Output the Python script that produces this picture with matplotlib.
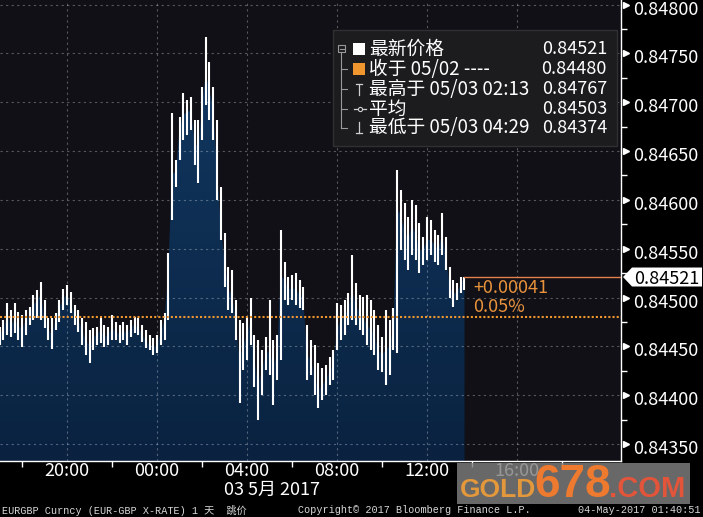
import matplotlib
matplotlib.use("Agg")
import matplotlib.pyplot as plt
import numpy as np
from matplotlib.patches import Rectangle, Polygon
from matplotlib.colors import LinearSegmentedColormap
from matplotlib.transforms import blended_transform_factory, ScaledTranslation

plt.rcParams['font.family'] = ['Noto Sans CJK SC', 'DejaVu Sans']

# EURGBP 10-minute bars, first bar 05/02 17:00 (hours counted from 05/03 00:00)
start_hour = -7.0
bar_hours = 10 / 60

highs = [0.84470, 0.84477, 0.84494, 0.84487, 0.84494, 0.84485, 0.84482, 0.84487, 0.84490, 0.84503,
         0.84508, 0.84516, 0.84497, 0.84479, 0.84479, 0.84484, 0.84497, 0.84509, 0.84513, 0.84506,
         0.84492, 0.84487, 0.84479, 0.84475, 0.84467, 0.84469, 0.84470, 0.84479, 0.84472, 0.84470,
         0.84482, 0.84475, 0.84472, 0.84475, 0.84472, 0.84477, 0.84480, 0.84479, 0.84472, 0.84467,
         0.84462, 0.84459, 0.84462, 0.84477, 0.84484, 0.84546, 0.84689, 0.84641, 0.84685, 0.84710,
         0.84702, 0.84705, 0.84682, 0.84682, 0.84716, 0.84767, 0.84741, 0.84716, 0.84682, 0.84613,
         0.84566, 0.84531, 0.84528, 0.84497, 0.84477, 0.84474, 0.84480, 0.84499, 0.84462, 0.84456,
         0.84446, 0.84460, 0.84497, 0.84456, 0.84462, 0.84569, 0.84536, 0.84521, 0.84523, 0.84525,
         0.84518, 0.84511, 0.84472, 0.84456, 0.84451, 0.84433, 0.84428, 0.84431, 0.84439, 0.84446,
         0.84494, 0.84492, 0.84497, 0.84505, 0.84544, 0.84515, 0.84503, 0.84501, 0.84503, 0.84497,
         0.84487, 0.84472, 0.84460, 0.84487, 0.84477, 0.84489, 0.84631, 0.84610, 0.84597, 0.84582,
         0.84600, 0.84595, 0.84576, 0.84562, 0.84582, 0.84579, 0.84569, 0.84564, 0.84587, 0.84562,
         0.84531, 0.84518, 0.84515, 0.84521, 0.84521]
lows = [0.84451, 0.84456, 0.84462, 0.84460, 0.84464, 0.84456, 0.84449, 0.84462, 0.84472, 0.84477,
        0.84479, 0.84477, 0.84469, 0.84456, 0.84447, 0.84467, 0.84475, 0.84487, 0.84492, 0.84484,
        0.84472, 0.84465, 0.84451, 0.84441, 0.84433, 0.84446, 0.84451, 0.84453, 0.84449, 0.84451,
        0.84456, 0.84456, 0.84453, 0.84456, 0.84451, 0.84460, 0.84464, 0.84462, 0.84454, 0.84448,
        0.84446, 0.84441, 0.84443, 0.84451, 0.84456, 0.84477, 0.84579, 0.84613, 0.84641, 0.84661,
        0.84666, 0.84672, 0.84636, 0.84617, 0.84661, 0.84697, 0.84682, 0.84661, 0.84600, 0.84559,
        0.84511, 0.84487, 0.84484, 0.84456, 0.84392, 0.84426, 0.84436, 0.84451, 0.84408, 0.84374,
        0.84400, 0.84426, 0.84421, 0.84390, 0.84415, 0.84436, 0.84497, 0.84492, 0.84497, 0.84492,
        0.84489, 0.84487, 0.84415, 0.84421, 0.84400, 0.84387, 0.84395, 0.84400, 0.84410, 0.84415,
        0.84446, 0.84456, 0.84462, 0.84472, 0.84477, 0.84472, 0.84467, 0.84462, 0.84451, 0.84446,
        0.84441, 0.84426, 0.84424, 0.84410, 0.84421, 0.84446, 0.84443, 0.84549, 0.84538, 0.84528,
        0.84544, 0.84538, 0.84525, 0.84533, 0.84538, 0.84544, 0.84536, 0.84533, 0.84544, 0.84528,
        0.84500, 0.84490, 0.84497, 0.84505, 0.84508]
closes = [0.84462, 0.84467, 0.84482, 0.84472, 0.84477, 0.84472, 0.84467, 0.84477, 0.84482, 0.84492,
          0.84497, 0.84503, 0.84479, 0.84467, 0.84462, 0.84479, 0.84489, 0.84499, 0.84503, 0.84494,
          0.84482, 0.84477, 0.84467, 0.84456, 0.84451, 0.84459, 0.84462, 0.84467, 0.84459, 0.84462,
          0.84469, 0.84465, 0.84462, 0.84467, 0.84462, 0.84469, 0.84472, 0.84469, 0.84462, 0.84456,
          0.84451, 0.84449, 0.84451, 0.84464, 0.84477, 0.84528, 0.84626, 0.84629, 0.84672, 0.84687,
          0.84690, 0.84692, 0.84661, 0.84651, 0.84697, 0.84728, 0.84713, 0.84692, 0.84631, 0.84574,
          0.84538, 0.84508, 0.84503, 0.84477, 0.84436, 0.84451, 0.84462, 0.84477, 0.84436, 0.84410,
          0.84426, 0.84441, 0.84446, 0.84431, 0.84441, 0.84523, 0.84518, 0.84508, 0.84510, 0.84508,
          0.84503, 0.84499, 0.84441, 0.84436, 0.84421, 0.84405, 0.84410, 0.84415, 0.84424, 0.84431,
          0.84467, 0.84477, 0.84482, 0.84487, 0.84508, 0.84492, 0.84485, 0.84479, 0.84472, 0.84467,
          0.84462, 0.84446, 0.84441, 0.84446, 0.84451, 0.84467, 0.84590, 0.84585, 0.84569, 0.84559,
          0.84574, 0.84564, 0.84549, 0.84549, 0.84559, 0.84559, 0.84554, 0.84549, 0.84564, 0.84544,
          0.84513, 0.84503, 0.84506, 0.84513, 0.84521]

prev_close = 0.84480
legend_rows = [("最新价格", "0.84521"),
               ("收于 05/02 ----", "0.84480"),
               ("最高于 05/03 02:13", "0.84767"),
               ("平均", "0.84503"),
               ("最低于 05/03 04:29", "0.84374")]

xtick_hours = [-4, 0, 4, 8, 12, 16]
xtick_labels = ["20:00", "00:00", "04:00", "08:00", "12:00", "16:00"]
xminor_hours = [-6, -2, 2, 6, 10, 14, 18]
yticks = [0.8435, 0.8440, 0.8445, 0.8450, 0.8455, 0.8460, 0.8465, 0.8470, 0.8475, 0.8480]
date_label = "03 5月 2017"
footer_left = "EURGBP Curncy (EUR-GBP X-RATE) 1 天  跳价"
footer_mid = "Copyright© 2017 Bloomberg Finance L.P."
footer_right = "04-May-2017 01:40:51"

W, H = 703, 517
fig = plt.figure(figsize=(W / 100, H / 100), dpi=100, facecolor='black')
ax = fig.add_axes([0, 56 / H, 621 / W, 461 / H])
ax.set_facecolor('#101016')

t = start_hour + bar_hours * np.arange(len(closes))
xlo, xhi = -157 / 22.5, (621 - 157) / 22.5
ylo, yhi = 0.843325, 0.848048

# gradient area under the closes
poly = ax.fill_between(t, closes, ylo, color='none', lw=0)
grad = np.linspace(0, 1, 256).reshape(-1, 1)
cmap = LinearSegmentedColormap.from_list('fill', ['#0a2240', '#123a64'])
im = ax.imshow(grad, extent=[t[0], t[-1], ylo, yhi], origin='lower', aspect='auto',
               cmap=cmap, zorder=1)
im.set_clip_path(poly.get_paths()[0], transform=ax.transData)

# grid
for yv in yticks:
    ax.axhline(yv, color=(1, 1, 1, 0.3), lw=0.8, ls=(0, (2, 3)), zorder=2)
for xv in xtick_hours:
    ax.axvline(xv, color=(1, 1, 1, 0.3), lw=0.8, ls=(0, (2, 3)), zorder=2)

# high-low bars
ax.vlines(t, lows, highs, color='white', lw=1.5, zorder=3)

# previous close and last price lines
last = closes[-1]
ax.axhline(prev_close, color='#f0962e', lw=1.5, ls=(0, (1, 1)), zorder=4)
ax.plot([t[-1], xhi], [last, last], color='#e4804c', lw=1, zorder=4)
chg = last - prev_close
ax.text(t[-1] + 0.38, last - 0.000113, f"+{chg:.5f}", color='#e8923c', fontsize=13,
        va='center', ha='left', zorder=5)
ax.text(t[-1] + 0.38, last - 0.000307, f"{chg / prev_close * 100:.2f}%", color='#e8923c',
        fontsize=13, va='center', ha='left', zorder=5)

ax.set_xlim(xlo, xhi)
ax.set_ylim(ylo, yhi)

for s in ['top', 'left']:
    ax.spines[s].set_visible(False)
for s in ['right', 'bottom']:
    ax.spines[s].set_color('white')
    ax.spines[s].set_linewidth(1)

ax.yaxis.tick_right()
ax.set_yticks(yticks)
ax.set_yticklabels([f"{v:.5f}" for v in yticks])
ax.set_yticks([v + 0.00025 for v in yticks[:-1]], minor=True)
ax.tick_params(axis='y', which='major', length=0, pad=8.5, labelsize=13, labelcolor='white')
ax.tick_params(axis='y', which='minor', length=4, width=1, color='white', direction='out')
shift = ScaledTranslation(0, -3 / 100, fig.dpi_scale_trans)
for lbl in ax.get_yticklabels():
    lbl.set_transform(lbl.get_transform() + shift)
ax.set_xticks(xtick_hours)
ax.set_xticklabels(xtick_labels)
ax.set_xticks(xminor_hours, minor=True)
ax.tick_params(axis='x', which='major', length=0, pad=1, labelsize=13, labelcolor='white')
ax.tick_params(axis='x', which='minor', length=4, width=1, color='white', direction='out')

yt = blended_transform_factory(ax.transAxes, ax.transData)
ax.plot(np.full(len(yticks), 1 + 5 / 621), yticks, ls='none', marker='>', ms=5,
        color='white', transform=yt, clip_on=False)

# last price flag
h = 0.0000973
flag = Polygon([(1 + 2 / 621, last), (1 + 11 / 621, last + h), (1 + 81 / 621, last + h),
                (1 + 81 / 621, last - h), (1 + 11 / 621, last - h)],
               closed=True, fc='white', ec='none', transform=yt, clip_on=False, zorder=6)
ax.add_patch(flag)
ax.text(1 + 13 / 621, last, f"{last:.5f}", transform=yt, color='black', fontsize=13,
        va='center_baseline', ha='left', zorder=7, clip_on=False)

# overlay in pixel coordinates for legend, footer, watermark
ov = fig.add_axes([0, 0, 1, 1], zorder=5)
ov.set_xlim(0, W)
ov.set_ylim(H, 0)
ov.axis('off')
ov.patch.set_alpha(0)

ov.add_patch(Rectangle((333, 30), 284, 116, fc='#1c1c1e', ec='#303032', lw=1))
row_y = [49, 69, 89, 109, 128]
tree = '#9a9a9a'
ov.plot([341, 341], [52, row_y[-1]], color=tree, lw=0.8)
for yv in row_y[1:]:
    ov.plot([341, 347], [yv, yv], color=tree, lw=0.8)
ov.add_patch(Rectangle((338, 45), 7, 7, fc='#1c1c1e', ec=tree, lw=0.8))
ov.plot([339.5, 343.5], [48.5, 48.5], color=tree, lw=0.8)
ov.add_patch(Rectangle((353, 43), 12, 12, fc='white', ec='none'))
ov.add_patch(Rectangle((353, 63), 12, 12, fc='#f0962e', ec='none'))
ov.plot([359, 359], [84, 95], color='#cfcfcf', lw=0.9)
ov.plot([356, 362], [84, 84], color='#cfcfcf', lw=0.9)
ov.plot([354, 366], [109, 109], color='#cfcfcf', lw=0.9)
ov.plot([360], [109], marker='o', ms=3, mfc='#1c1c1e', mec='#cfcfcf', mew=0.8)
ov.plot([359, 359], [122, 133], color='#cfcfcf', lw=0.9)
ov.plot([356, 362], [133, 133], color='#cfcfcf', lw=0.9)
for (lab, val), yv in zip(legend_rows, row_y):
    ov.text(369, yv, lab, color='white', fontsize=13.5, va='center', ha='left')
    ov.text(607, yv, val, color='white', fontsize=13, va='center', ha='right')

ov.text(272, 490, date_label, color='white', fontsize=13, va='center', ha='center')

mono = ['Liberation Mono', 'Noto Sans CJK SC']
ov.text(2, 510, footer_left, color='#d8d8d8', fontsize=7.3, family=mono, va='center', ha='left')
ov.text(298, 510, footer_mid, color='#d8d8d8', fontsize=7.3, family=mono, va='center', ha='left')
ov.text(701, 510, footer_right, color='#d8d8d8', fontsize=7.3, family=mono, va='center', ha='right')

# watermark
ov.add_patch(Rectangle((457, 463), 233, 41, fc=(0.5, 0.5, 0.5, 0.82), ec='none'))
ov.text(460, 497, "GOLD", color='#e3983c', fontsize=19, fontweight='bold',
        family='Liberation Sans', va='baseline', ha='left')
ov.text(534, 497, "678", color='#ee7a30', fontsize=33, fontweight='bold',
        family='Liberation Sans', va='baseline', ha='left')
ov.text(609, 497, ".COM", color='#e2553a', fontsize=21, fontweight='bold',
        family='Liberation Sans', va='baseline', ha='left')

fig.savefig('out.png', dpi=100, facecolor='black')
